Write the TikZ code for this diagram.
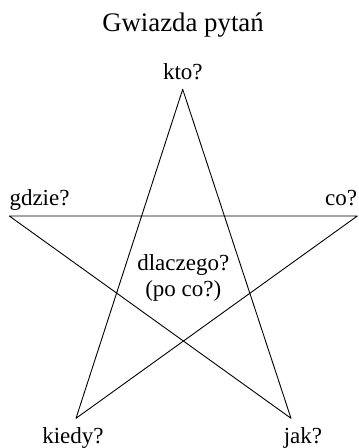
\documentclass[tikz,border=0pt]{standalone}
\usepackage{fontspec}
\setmainfont{Liberation Serif}
\begin{document}
\begin{tikzpicture}[x=1pt,y=-1pt,
  lbl/.style={inner sep=0pt,anchor=base,font=\fontsize{23}{27}\selectfont},
  ttl/.style={inner sep=0pt,anchor=base,font=\fontsize{26.8}{30}\selectfont},
  starline/.style={line width=0.9pt,line join=round}]
\useasboundingbox (0,0) rectangle (359,448);
\coordinate (t) at (182.7,89.3);
\coordinate (gd) at (9.3,216);
\coordinate (co) at (357.3,216);
\coordinate (kd) at (76,418.3);
\coordinate (jk) at (291,418.3);
\draw[starline] (t) -- (kd) -- (co) -- (gd) -- (jk) -- cycle;
\node[ttl] (title) at (183,31.7) {Gwiazda pytań};
\node[lbl] (lkto) at (182.8,79) {kto?};
\node[lbl,anchor=base west] (lgdzie) at (9.3,205) {gdzie?};
\node[lbl,anchor=base east] (lco) at (357.3,205) {co?};
\node[lbl] (lkiedy) at (73,443) {kiedy?};
\node[lbl] (ljak) at (303,443) {jak?};
\node[lbl] (ldl) at (183.3,270.7) {dlaczego?};
\node[lbl] (lpo) at (183.3,296.5) {(po co?)};
\end{tikzpicture}
\end{document}
